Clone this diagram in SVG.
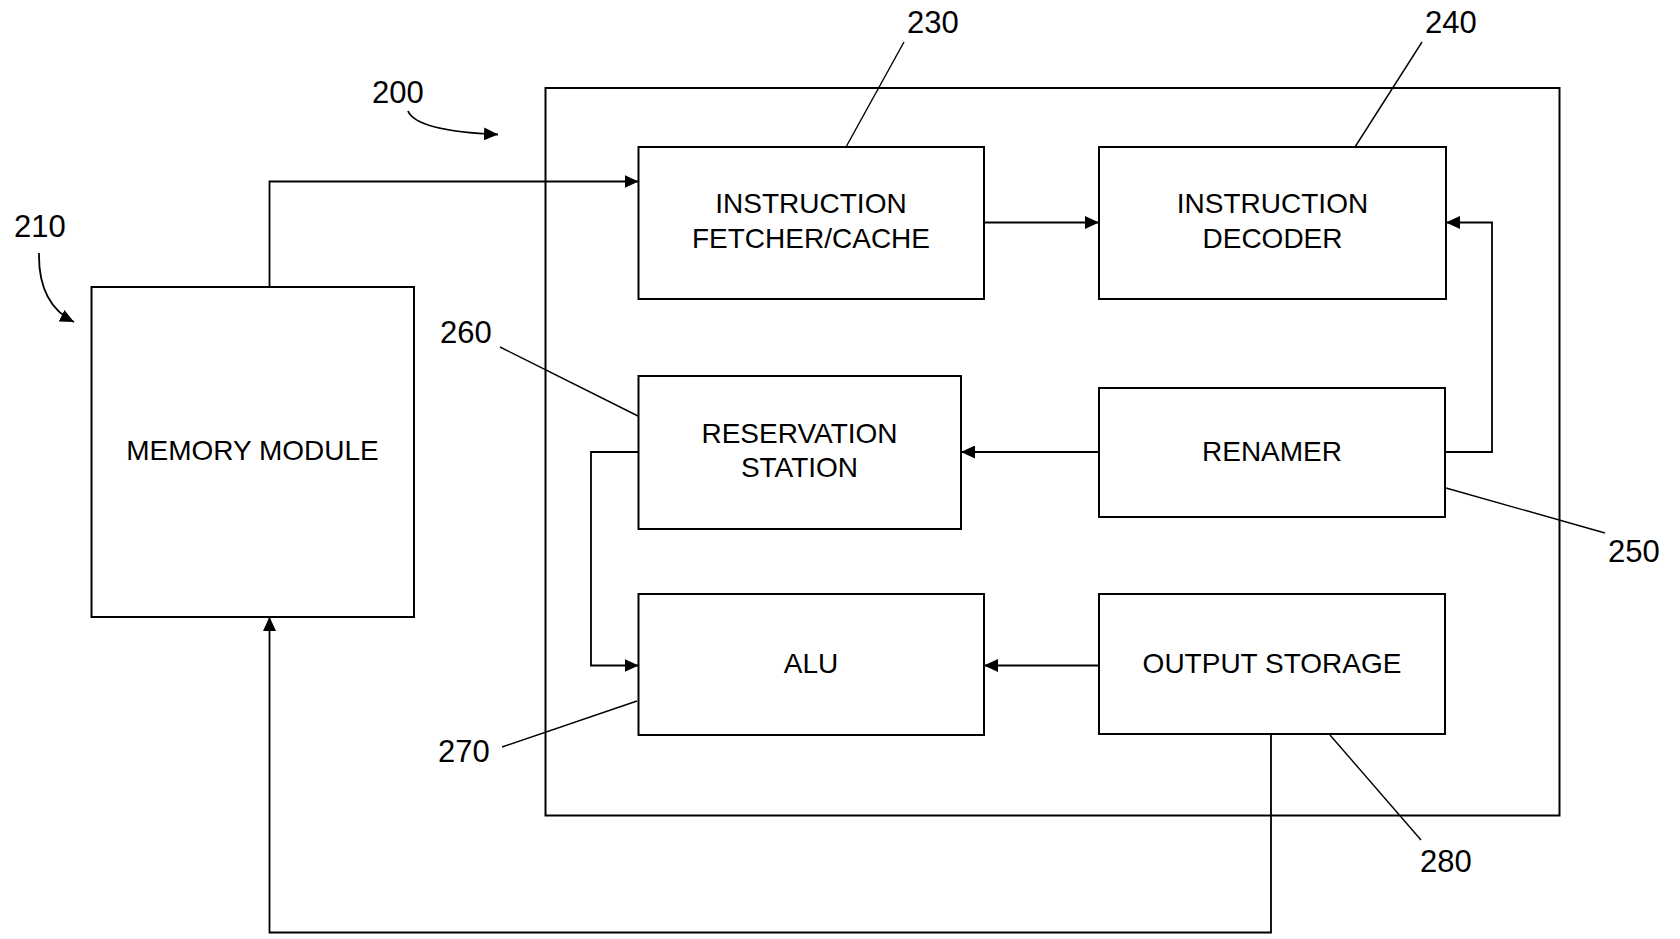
<svg xmlns="http://www.w3.org/2000/svg" width="1680" height="939" viewBox="0 0 1680 939">
<style>
.box{fill:none;stroke:#000;stroke-width:2}
.ln{fill:none;stroke:#000;stroke-width:1.8}
.ld{fill:none;stroke:#000;stroke-width:1.4}
.t{font-family:"Liberation Sans",Arial,sans-serif;font-size:28px;fill:#000;text-anchor:middle}
.n{font-family:"Liberation Sans",Arial,sans-serif;font-size:31px;fill:#000}
</style>
<defs>
<marker id="ah" viewBox="0 0 14 13" refX="14" refY="6.5" markerWidth="14" markerHeight="13" markerUnits="userSpaceOnUse" orient="auto">
<path d="M0,0 L14,6.5 L0,13 Z" fill="#000"/>
</marker>
</defs>
<rect width="1680" height="939" fill="#fff"/>
<g id="processor-200">
<rect class="box" x="545.5" y="88" width="1014" height="727.5"/>
<text class="n" x="372" y="103">200</text>
<path class="ln" d="M408,111 Q416,131 498,134.5" marker-end="url(#ah)"/>
</g>
<g id="memory-210">
<rect class="box" x="91.5" y="287" width="322.5" height="330"/>
<text class="t" x="252.5" y="460">MEMORY MODULE</text>
<text class="n" x="14" y="237">210</text>
<path class="ln" d="M39,253 Q38,304 74,322" marker-end="url(#ah)"/>
</g>
<g id="fetcher-230">
<rect class="box" x="638.5" y="147" width="345.5" height="152"/>
<text class="t" x="811" y="213">INSTRUCTION</text>
<text class="t" x="811" y="248">FETCHER/CACHE</text>
<text class="n" x="907" y="33">230</text>
<line class="ld" x1="904" y1="42" x2="846" y2="147"/>
</g>
<g id="decoder-240">
<rect class="box" x="1099" y="147" width="347" height="152"/>
<text class="t" x="1272.5" y="213">INSTRUCTION</text>
<text class="t" x="1272.5" y="248">DECODER</text>
<text class="n" x="1425" y="33">240</text>
<line class="ld" x1="1422" y1="42" x2="1355" y2="147"/>
</g>
<g id="renamer-250">
<rect class="box" x="1099" y="388" width="346" height="129"/>
<text class="t" x="1272" y="461">RENAMER</text>
<text class="n" x="1608" y="562">250</text>
<line class="ld" x1="1446" y1="488" x2="1605" y2="533"/>
</g>
<g id="reservation-260">
<rect class="box" x="638.5" y="376" width="322.5" height="153"/>
<text class="t" x="799.5" y="443">RESERVATION</text>
<text class="t" x="799.5" y="477">STATION</text>
<text class="n" x="440" y="343">260</text>
<line class="ld" x1="500" y1="347" x2="638" y2="416"/>
</g>
<g id="alu-270">
<rect class="box" x="638.5" y="594" width="345.5" height="141"/>
<text class="t" x="811" y="673">ALU</text>
<text class="n" x="438" y="762">270</text>
<line class="ld" x1="637" y1="701" x2="502" y2="747"/>
</g>
<g id="output-280">
<rect class="box" x="1099" y="594" width="346" height="140"/>
<text class="t" x="1272" y="673">OUTPUT STORAGE</text>
<text class="n" x="1420" y="872">280</text>
<line class="ld" x1="1330" y1="735" x2="1421" y2="840"/>
</g>
<g id="connectors">
<path class="ln" d="M269.5,287 V181.5 H638.5" marker-end="url(#ah)"/>
<path class="ln" d="M984,222.5 H1099" marker-end="url(#ah)"/>
<path class="ln" d="M1445,452 H1492 V222.5 H1446" marker-end="url(#ah)"/>
<path class="ln" d="M1099,452 H961" marker-end="url(#ah)"/>
<path class="ln" d="M638.5,452 H591 V665.5 H638.5" marker-end="url(#ah)"/>
<path class="ln" d="M1099,665.5 H984" marker-end="url(#ah)"/>
<path class="ln" d="M1271,734 V932.5 H269.5 V617" marker-end="url(#ah)"/>
</g>
</svg>
